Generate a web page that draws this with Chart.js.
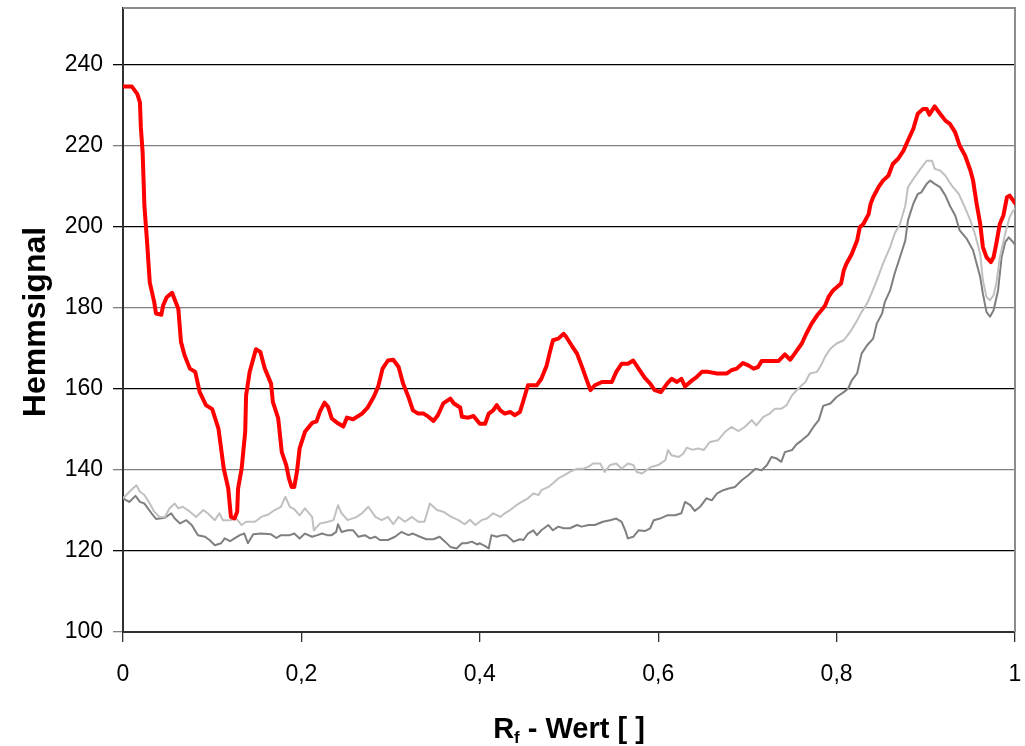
<!DOCTYPE html>
<html>
<head>
<meta charset="utf-8">
<title>Hemmsignal</title>
<script src="https://cdn.jsdelivr.net/npm/chart.js@4/dist/chart.umd.min.js"></script>
<style>
  html, body { margin: 0; padding: 0; background: #ffffff; }
  #chart { display: block; }
</style>
</head>
<body>
<canvas id="chart" width="1025" height="746"></canvas>
<script>
// --- Data: Rf value vs. inhibition signal, three tracks ---
const yTicks = [100, 120, 140, 160, 180, 200, 220, 240];
const xTicks = [0, 0.2, 0.4, 0.6, 0.8, 1];

// red track (sample)
const rfRed = [0.000,0.010,0.016,0.019,0.020,0.022,0.024,0.027,0.030,0.035,0.037,0.043,0.045,0.049,0.055,0.062,0.065,0.069,0.075,0.081,
  0.086,0.093,0.100,0.107,0.113,0.118,0.121,0.125,0.128,0.129,0.133,0.137,0.138,0.142,0.149,0.154,0.159,0.166,0.168,0.174,
  0.178,0.183,0.186,0.189,0.192,0.195,0.198,0.204,0.212,0.217,0.221,0.226,0.230,0.234,0.241,0.247,0.251,0.258,0.268,0.274,
  0.281,0.286,0.291,0.297,0.303,0.309,0.314,0.320,0.325,0.331,0.337,0.342,0.348,0.353,0.359,0.367,0.371,0.378,0.380,0.387,
  0.393,0.400,0.406,0.410,0.415,0.419,0.423,0.428,0.434,0.439,0.445,0.449,0.454,0.464,0.469,0.475,0.479,0.482,0.488,0.494,
  0.497,0.503,0.509,0.514,0.520,0.524,0.529,0.537,0.548,0.553,0.559,0.566,0.572,0.578,0.585,0.591,0.596,0.603,0.610,0.615,
  0.621,0.626,0.630,0.638,0.643,0.649,0.656,0.666,0.677,0.682,0.688,0.695,0.701,0.707,0.712,0.716,0.735,0.742,0.748,0.753,
  0.761,0.766,0.772,0.778,0.783,0.787,0.791,0.796,0.805,0.808,0.811,0.817,0.823,0.826,0.830,0.836,0.838,0.841,0.847,0.852,
  0.858,0.863,0.869,0.875,0.880,0.886,0.891,0.897,0.901,0.904,0.910,0.916,0.922,0.927,0.933,0.938,0.944,0.950,0.953,0.957,
  0.961,0.964,0.968,0.973,0.976,0.979,0.983,0.987,0.991,0.994,0.998,1.000];
const hemmRed = [234.6,234.6,232.8,230.7,224.6,218.4,205.2,196.2,186.3,181.4,178.6,178.3,180.6,182.6,183.7,179.8,171.6,168.3,165.0,164.2,
  159.2,156.0,155.0,150.2,140.3,135.4,128.4,128.0,129.7,135.4,140.3,149.4,158.4,164.2,169.8,169.1,165.0,161.3,156.8,152.7,
  144.4,141.2,137.9,135.8,135.8,139.5,145.3,149.4,151.6,152.0,154.5,156.6,155.5,152.7,151.5,150.7,152.9,152.5,153.9,155.3,
  158.0,160.5,165.0,167.0,167.2,165.4,161.3,158.0,154.7,153.9,153.9,153.2,152.1,153.5,156.4,157.6,156.4,155.4,153.1,152.9,
  153.3,151.4,151.4,153.9,154.7,156.0,154.7,153.9,154.3,153.5,154.3,157.2,160.9,160.9,162.5,165.8,169.5,172.0,172.4,173.6,
  172.8,170.7,168.7,165.8,162.1,159.7,160.9,161.7,161.7,164.2,166.2,166.2,167.0,165.0,162.7,161.3,159.7,159.2,161.3,162.5,
  161.7,162.5,160.6,162.1,162.9,164.2,164.2,163.8,163.8,164.6,165.0,166.4,165.8,165.0,165.4,166.9,166.9,168.5,167.2,168.7,
  171.2,173.6,176.1,178.1,179.4,180.5,182.7,184.3,186.0,189.2,190.9,193.3,196.6,199.9,200.7,203.2,205.6,207.3,209.8,211.4,
  212.6,215.5,216.8,218.8,221.3,224.2,227.9,229.1,229.1,227.7,229.7,227.9,226.2,225.4,223.3,220.0,217.6,213.9,211.4,205.7,
  200.7,195.0,192.5,191.3,192.5,195.8,200.7,202.8,207.3,207.7,206.5,205.8];

// light grey track
const rfLight = [0.000,0.009,0.015,0.019,0.024,0.030,0.035,0.041,0.047,0.052,0.058,0.062,0.067,0.075,0.082,0.090,0.095,0.103,0.108,0.112,
  0.121,0.127,0.133,0.138,0.148,0.155,0.163,0.170,0.177,0.182,0.187,0.192,0.198,0.204,0.212,0.214,0.221,0.230,0.236,0.241,
  0.245,0.252,0.262,0.268,0.275,0.283,0.290,0.297,0.303,0.309,0.316,0.324,0.331,0.338,0.344,0.352,0.359,0.368,0.376,0.383,
  0.389,0.395,0.402,0.408,0.415,0.423,0.428,0.434,0.441,0.447,0.454,0.460,0.466,0.469,0.477,0.482,0.488,0.495,0.501,0.509,
  0.516,0.522,0.527,0.535,0.540,0.546,0.553,0.559,0.566,0.572,0.576,0.582,0.589,0.593,0.600,0.608,0.611,0.615,0.623,0.628,
  0.632,0.638,0.645,0.651,0.658,0.667,0.675,0.682,0.690,0.697,0.705,0.710,0.718,0.725,0.731,0.738,0.744,0.750,0.757,0.765,
  0.770,0.778,0.783,0.787,0.793,0.800,0.808,0.815,0.823,0.828,0.834,0.839,0.845,0.852,0.860,0.865,0.871,0.877,0.880,0.886,
  0.894,0.901,0.907,0.910,0.916,0.922,0.929,0.937,0.942,0.950,0.955,0.961,0.964,0.968,0.972,0.976,0.979,0.983,0.989,0.994,
  0.998,1.000];
const hemmLight = [133.0,135.0,136.2,134.6,133.8,131.7,129.7,128.4,128.4,130.5,131.7,130.5,130.9,129.7,128.4,130.1,129.3,127.6,129.3,127.6,
  127.6,128.0,126.4,127.2,127.2,128.4,129.0,130.1,130.9,133.4,130.9,130.3,128.8,130.5,128.4,125.1,126.8,127.2,127.6,131.3,
  129.3,127.6,128.4,129.3,130.9,128.4,127.6,128.4,126.6,128.4,127.2,128.4,127.2,127.2,131.7,130.1,129.7,128.4,127.6,126.6,
  127.7,126.4,127.6,128.0,129.3,128.4,129.3,130.1,131.3,132.1,133.0,134.2,133.8,135.0,135.8,136.7,137.9,138.7,139.5,140.3,
  140.3,140.8,141.6,141.6,139.5,141.2,141.6,140.3,141.6,141.2,139.5,139.1,140.3,140.8,141.2,142.4,144.9,143.6,143.2,144.0,
  145.5,145.0,145.3,144.9,146.9,147.3,149.4,150.6,149.6,150.6,152.3,151.0,153.1,153.9,155.1,155.1,156.0,158.4,160.1,161.7,
  163.8,164.2,166.0,167.9,169.9,171.2,172.0,174.0,176.9,179.0,181.0,183.5,186.8,190.9,195.0,198.3,200.7,205.2,209.8,211.8,
  214.3,216.3,216.3,214.3,213.9,212.6,210.2,208.1,205.7,201.6,198.3,193.3,186.8,182.7,181.9,183.1,186.0,192.5,198.3,202.4,
  204.0,204.5];

// dark grey track
const rfDark = [0.000,0.007,0.014,0.019,0.024,0.032,0.037,0.047,0.054,0.058,0.064,0.071,0.077,0.084,0.092,0.097,0.103,0.110,0.114,0.120,
  0.125,0.131,0.136,0.140,0.146,0.155,0.166,0.172,0.177,0.187,0.192,0.198,0.204,0.212,0.218,0.223,0.229,0.234,0.239,0.241,
  0.245,0.252,0.258,0.264,0.271,0.277,0.283,0.288,0.297,0.305,0.312,0.320,0.325,0.333,0.340,0.348,0.355,0.361,0.367,0.374,
  0.380,0.385,0.391,0.397,0.400,0.406,0.410,0.413,0.419,0.425,0.430,0.438,0.445,0.449,0.454,0.460,0.464,0.469,0.477,0.482,
  0.488,0.494,0.501,0.509,0.514,0.522,0.529,0.538,0.546,0.553,0.559,0.563,0.566,0.572,0.578,0.585,0.591,0.595,0.602,0.610,
  0.619,0.626,0.630,0.636,0.641,0.647,0.654,0.660,0.666,0.673,0.679,0.686,0.694,0.701,0.709,0.716,0.722,0.727,0.733,0.738,
  0.742,0.750,0.755,0.761,0.768,0.774,0.780,0.785,0.793,0.800,0.808,0.813,0.817,0.823,0.828,0.834,0.841,0.845,0.851,0.854,
  0.860,0.865,0.871,0.877,0.880,0.886,0.891,0.895,0.901,0.905,0.910,0.916,0.922,0.927,0.933,0.938,0.946,0.953,0.961,0.964,
  0.968,0.972,0.976,0.981,0.985,0.989,0.993,0.998,1.000];
const hemmDark = [133.0,132.1,133.6,132.1,131.7,129.3,127.9,128.2,129.3,128.0,126.8,127.6,126.4,123.9,123.5,122.7,121.4,121.9,123.1,122.4,
  123.1,123.9,124.3,121.9,124.1,124.3,124.1,123.2,123.9,123.9,124.3,123.1,124.3,123.5,123.9,124.3,123.9,123.9,124.7,126.6,
  124.7,125.1,125.1,123.5,123.9,123.1,123.5,122.7,122.7,123.5,124.7,123.9,124.3,123.5,122.9,122.9,123.5,122.3,121.0,120.6,
  121.9,121.9,122.3,121.6,121.9,121.2,120.6,123.9,123.5,123.9,123.9,122.3,122.9,122.7,124.3,125.1,123.9,125.1,126.4,125.1,
  126.0,125.6,125.6,126.4,126.0,126.4,126.4,127.2,127.6,128.0,127.2,125.1,123.1,123.5,125.1,124.9,125.6,127.6,128.0,128.8,
  128.8,129.3,132.1,131.3,129.9,130.9,133.0,132.5,134.2,135.0,135.4,135.8,137.5,138.7,140.3,139.9,141.2,143.2,142.8,142.0,
  144.4,144.9,146.3,147.3,148.6,150.6,152.3,155.8,156.4,158.0,159.2,160.1,162.1,163.8,168.7,170.7,172.4,176.1,178.6,181.4,
  184.3,188.4,192.5,196.6,201.6,205.7,208.1,208.5,210.6,211.4,210.6,209.8,207.7,205.2,202.8,199.1,197.0,194.2,187.6,183.5,
  179.0,177.8,179.4,184.3,192.5,196.2,197.4,196.2,195.5];

function toPoints(xs, ys) {
    return xs.map((x, i) => ({ x: x, y: ys[i] }));
}

const FONT = '"Liberation Sans", Arial, sans-serif';

// plot frame (top + right) and the two axis titles
const frameAndTitles = {
    id: 'frameAndTitles',
    beforeDatasetsDraw(chart) {
        const { ctx, chartArea: a } = chart;
        ctx.save();
        ctx.strokeStyle = '#8c8c8c';
        ctx.lineWidth = 2;
        ctx.beginPath();
        ctx.moveTo(a.left, a.top);
        ctx.lineTo(a.right, a.top);
        ctx.lineTo(a.right, a.bottom);
        ctx.stroke();
        ctx.restore();
    },
    afterDraw(chart) {
        const ctx = chart.ctx;
        ctx.save();
        ctx.fillStyle = '#000';

        // y title
        ctx.font = 'bold 32px ' + FONT;
        ctx.textAlign = 'center';
        ctx.textBaseline = 'middle';
        ctx.translate(36, 322);
        ctx.rotate(-Math.PI / 2);
        ctx.fillText('Hemmsignal', 0, 0);
        ctx.setTransform(1, 0, 0, 1, 0, 0);

        // x title with subscript f
        const big = 'bold 29px ' + FONT;
        const small = 'bold 17px ' + FONT;
        const rest = ' - Wert [ ]';
        ctx.textAlign = 'left';
        ctx.textBaseline = 'alphabetic';
        ctx.font = big;
        const wR = ctx.measureText('R').width;
        const wRest = ctx.measureText(rest).width;
        ctx.font = small;
        const wF = ctx.measureText('f').width;
        let x = 569 - (wR + wF + wRest) / 2;
        const base = 738;
        ctx.font = big;
        ctx.fillText('R', x, base);
        x += wR;
        ctx.font = small;
        ctx.fillText('f', x, base + 5);
        x += wF;
        ctx.font = big;
        ctx.fillText(rest, x, base);
        ctx.restore();
    }
};

const ctx = document.getElementById('chart').getContext('2d');
new Chart(ctx, {
    type: 'line',
    data: {
        datasets: [
            {
                label: 'rot',
                data: toPoints(rfRed, hemmRed),
                borderColor: '#ff0000',
                borderWidth: 4,
                borderJoinStyle: 'round',
                borderCapStyle: 'round',
                pointRadius: 0,
                tension: 0,
                order: 0
            },
            {
                label: 'hellgrau',
                data: toPoints(rfLight, hemmLight),
                borderColor: '#c0c0c0',
                borderWidth: 2,
                borderJoinStyle: 'round',
                pointRadius: 0,
                tension: 0,
                order: 1
            },
            {
                label: 'grau',
                data: toPoints(rfDark, hemmDark),
                borderColor: '#7f7f7f',
                borderWidth: 2,
                borderJoinStyle: 'round',
                pointRadius: 0,
                tension: 0,
                order: 2
            }
        ]
    },
    options: {
        responsive: false,
        animation: false,
        layout: { padding: { top: 8, right: 10, left: 0, bottom: 0 } },
        plugins: {
            legend: { display: false },
            tooltip: { enabled: false }
        },
        scales: {
            x: {
                type: 'linear',
                min: 0,
                max: 1,
                afterFit: (scale) => {
                    scale.height = 114;
                    scale.paddingLeft = 0;
                    scale.paddingRight = 0;
                },
                afterBuildTicks: (scale) => { scale.ticks = xTicks.map(v => ({ value: v })); },
                border: { color: '#303030', width: 2 },
                grid: { drawOnChartArea: false, drawTicks: true, tickLength: 10, color: '#303030', lineWidth: 1.3 },
                ticks: {
                    color: '#000',
                    font: { family: FONT, size: 23 },
                    padding: 19,
                    maxRotation: 0,
                    callback: (v) => String(Math.round(v * 10) / 10).replace('.', ',')
                }
            },
            y: {
                type: 'linear',
                min: 100,
                max: 254,
                afterFit: (scale) => {
                    scale.width = 123;
                    scale.paddingTop = 0;
                    scale.paddingBottom = 0;
                },
                afterBuildTicks: (scale) => { scale.ticks = yTicks.map(v => ({ value: v })); },
                border: { color: '#303030', width: 2 },
                grid: {
                    tickLength: 10,
                    lineWidth: 1.3,
                    color: (c) => (c.tick && c.tick.value % 40 === 0) ? '#000000' : '#808080'
                },
                ticks: {
                    color: '#000',
                    font: { family: FONT, size: 23 },
                    padding: 10
                }
            }
        }
    },
    plugins: [frameAndTitles]
});
</script>
</body>
</html>
